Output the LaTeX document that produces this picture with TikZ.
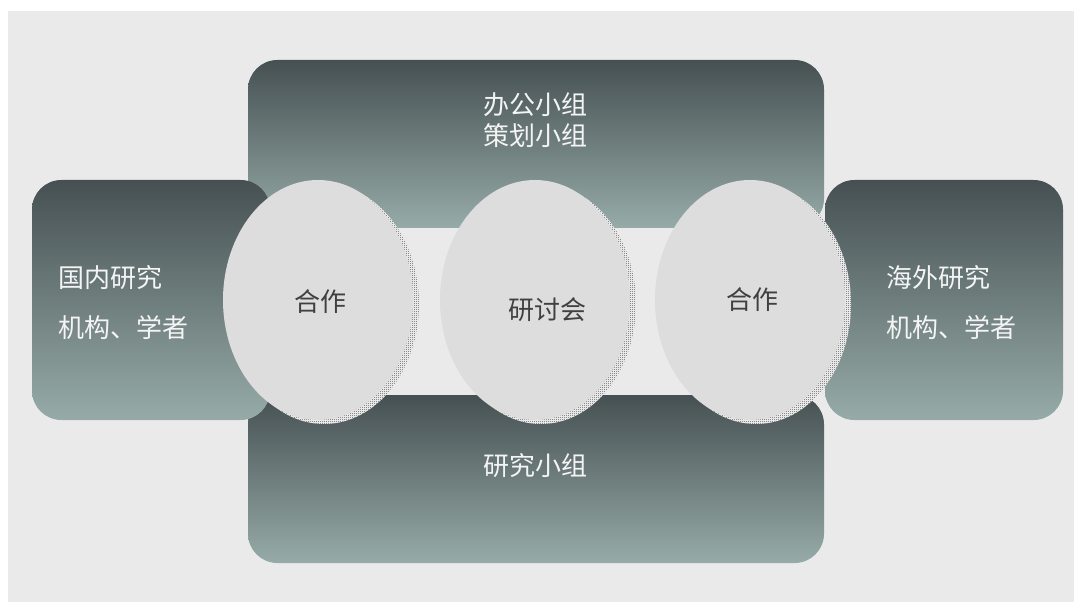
\documentclass[tikz,border=0pt]{standalone}
\usepackage{fontspec}
\setmainfont{Noto Sans CJK SC}
\usetikzlibrary{patterns.meta,shapes.geometric}
\definecolor{bgc}{HTML}{EAEAEA}
\definecolor{darkteal}{HTML}{465052}
\definecolor{lightteal}{HTML}{96ABA8}
\definecolor{bubblec}{HTML}{DDDDDD}
\definecolor{bubbletext}{HTML}{404040}
\definecolor{paneltextc}{HTML}{F4F4F4}
\tikzdeclarepattern{
  name=pxchecker,
  type=uncolored,
  bounding box={(0pt,0pt) and (1.5pt,1.5pt)},
  tile size={(1.5pt,1.5pt)},
  code={
    \pgfpathrectangle{\pgfpoint{0pt}{0pt}}{\pgfpoint{0.75pt}{0.75pt}}
    \pgfpathrectangle{\pgfpoint{0.75pt}{0.75pt}}{\pgfpoint{0.75pt}{0.75pt}}
    \pgfusepath{fill}
  }
}
\tikzset{
  panel/.style={draw=none, rectangle, rounded corners=22pt, top color=darkteal, bottom color=lightteal, inner sep=0pt},
  widepanel/.style={panel, minimum width=432pt, minimum height=126pt},
  sidepanel/.style={panel, minimum width=178.5pt, minimum height=180pt},
  bubble/.style={ellipse, fill=bubblec, draw=none, minimum width=142.5pt, minimum height=180pt, inner sep=0pt},
  paneltext/.style={text=paneltextc, inner sep=0pt, font=\fontsize{19.5}{37.5}\selectfont},
  toptext/.style={text=paneltextc, inner sep=0pt, font=\fontsize{19.5}{23}\selectfont, align=center},
  bubbletextst/.style={text=bubbletext, inner sep=0pt, font=\fontsize{19.5}{23}\selectfont},
}
\begin{document}
\begin{tikzpicture}[x=0.75pt, y=-0.75pt]
\useasboundingbox (0,0) rectangle (1074,602);
\fill[bgc] (8,11) rectangle (1074,602);
% panels
\node[widepanel] (toppanel) at (536,144) {};
\node[widepanel] (botpanel) at (536,479) {};
\node[sidepanel] (leftpanel) at (151,300) {};
\node[sidepanel] (rightpanel) at (944,300) {};
% panel texts
\node[toptext] (toptxt) at (535,120) {办公小组\\策划小组};
\node[toptext] (bottxt) at (535,466) {研究小组};
\node[paneltext, align=left, anchor=west] (lefttxt) at (58,303) {国内研究\\机构、学者};
\node[paneltext, align=left, anchor=west] (righttxt) at (886,303) {海外研究\\机构、学者};
% shadows and bubbles
\foreach \cx/\nm in {318/c1, 535/c2, 750/c3} {
  \fill[white] (\cx+6,304) ellipse [x radius=71.25pt, y radius=90pt];
  \fill[pattern=pxchecker, pattern color=black!70] (\cx+6,304) ellipse [x radius=71.25pt, y radius=90pt];
  \node[bubble] (\nm) at (\cx,300) {};
}
\node[bubbletextst] (c1txt) at (320,302) {合作};
\node[bubbletextst] (c2txt) at (547,310) {研讨会};
\node[bubbletextst] (c3txt) at (752,300) {合作};
\end{tikzpicture}
\end{document}
